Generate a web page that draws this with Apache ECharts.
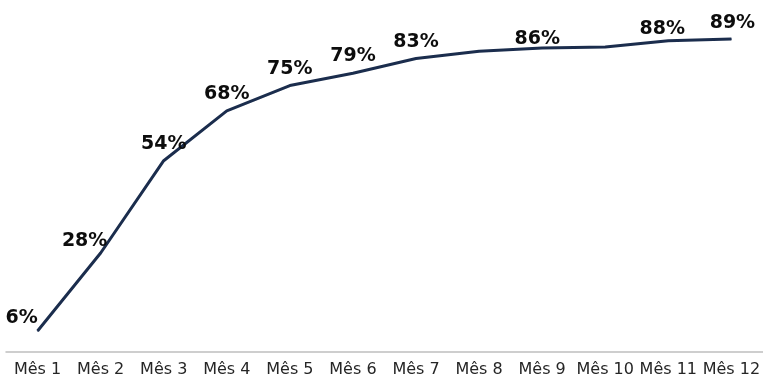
<!DOCTYPE html>
<html>
<head>
<meta charset="utf-8">
<script src="https://cdn.jsdelivr.net/npm/echarts@6/dist/echarts.min.js"></script>
<style>
  html, body { margin: 0; padding: 0; background: #fff; }
  #chart { width: 763px; height: 381px; }
</style>
</head>
<body>
<div id="chart"></div>
<script>
  var months = ['Mês 1', 'Mês 2', 'Mês 3', 'Mês 4', 'Mês 5', 'Mês 6',
                'Mês 7', 'Mês 8', 'Mês 9', 'Mês 10', 'Mês 11', 'Mês 12']
  var values = [6, 28.2, 54.5, 68.7, 75.9, 79.4, 83.6, 85.7, 86.6, 86.9, 88.7, 89.2]
  var labels = ['6%', '28%', '54%', '68%', '75%', '79%', '83%', '', '86%', '', '88%', '89%']

  // label nudges, px from the default top position
  var labelShift = { 0: [-16, 4], 1: [-16, 5], 8: [-5, 8], 10: [-6, 5], 11: [1, 1] }

  var chart = echarts.init(document.getElementById('chart'))

  chart.setOption({
    animation: false,
    grid: { left: 6, right: -3, top: 1, bottom: 29, containLabel: false },
    xAxis: {
      type: 'category',
      data: months,
      boundaryGap: true,
      axisTick: { show: false },
      axisLine: { lineStyle: { color: '#bfbfbf', width: 1.5 } },
      axisLabel: {
        interval: 0,
        margin: 10,
        color: '#262626',
        fontFamily: 'DejaVu Sans',
        fontSize: 16
      }
    },
    yAxis: {
      type: 'value',
      min: 0,
      max: 100,
      show: false,
      splitLine: { show: false }
    },
    series: [{
      type: 'line',
      symbol: 'circle',
      symbolSize: 1,
      showSymbol: true,
      itemStyle: { color: '#1b2d4d' },
      lineStyle: { color: '#1b2d4d', width: 3 },
      data: values.map(function (v, i) {
        return {
          value: v,
          label: { offset: labelShift[i] || [0, 0] }
        }
      }),
      label: {
        show: true,
        position: 'top',
        distance: 7,
        color: '#0d0d0d',
        fontFamily: 'DejaVu Sans',
        fontWeight: 'bold',
        fontSize: 19,
        formatter: function (p) { return labels[p.dataIndex] }
      }
    }]
  })
</script>
</body>
</html>
